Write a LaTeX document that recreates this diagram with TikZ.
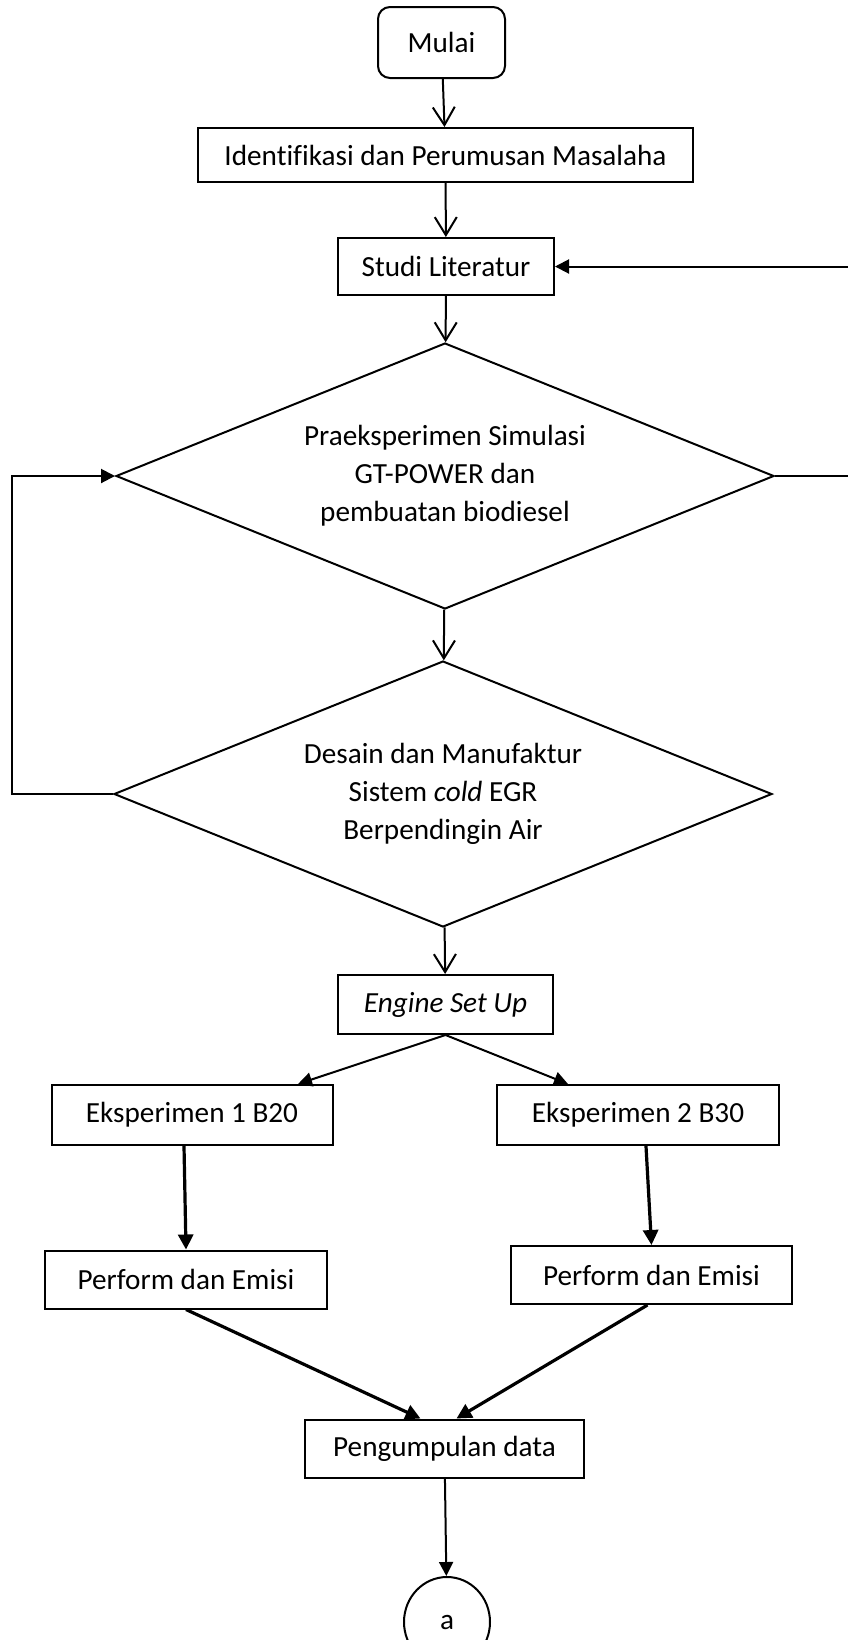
\documentclass[tikz,border=0pt]{standalone}
\usepackage{fontspec}
\setmainfont{Carlito}[Ligatures=NoCommon]
\usetikzlibrary{arrows.meta,shapes.geometric}

\begin{document}
\begin{tikzpicture}[x=0.5pt,y=-0.5pt,line width=1pt,
    every node/.style={font=\fontsize{14.6}{19}\selectfont},
    kotak/.style={draw,rectangle,inner sep=0pt,align=center,minimum height=29pt},
    keputusan/.style={draw,diamond,aspect=2.5,inner sep=0pt,align=center,minimum width=329pt,minimum height=133pt},
    panah/.style={-{Straight Barb[length=9pt,width=11pt]}},
    panahisi/.style={-{Triangle[length=7pt,width=7pt]}},
    panahtebal/.style={line width=1.6pt,-{Triangle[length=7.5pt,width=7.5pt]}}]
    \useasboundingbox (0,0) rectangle (847,1640);

    % Blok utama
    \node[kotak,rounded corners=6pt,minimum width=63.5pt,minimum height=35.5pt] (mulai) at (441.5,42.5) {Mulai};
    \node[kotak,minimum width=247.5pt,minimum height=27pt] (identifikasi) at (445.5,155) {Identifikasi dan Perumusan Masalaha};
    \node[kotak,minimum width=108pt,minimum height=28.5pt] (studi) at (446,266.5) {Studi Literatur};
    \node[keputusan] (praeksperimen) at (445,476) {Praeksperimen Simulasi\\GT-POWER dan\\pembuatan biodiesel};
    \node[keputusan] (desain) at (443,794) {Desain dan Manufaktur\\Sistem \textit{cold} EGR\\Berpendingin Air};
    \node[kotak,minimum width=107.5pt,minimum height=29.5pt] (engine) at (445.5,1004.5) {\textit{Engine Set Up}};

    % Dua cabang eksperimen
    \node[kotak,minimum width=140.5pt,minimum height=30pt] (eks1) at (192,1115) {Eksperimen 1 B20};
    \node[kotak,minimum width=141pt,minimum height=30pt] (eks2) at (638,1115) {Eksperimen 2 B30};
    \node[kotak,minimum width=141pt] (perform1) at (186,1279.5) {Perform dan Emisi};
    \node[kotak,minimum width=140.5pt] (perform2) at (651.5,1275) {Perform dan Emisi};
    \node[kotak,minimum width=139.5pt] (pengumpulan) at (444.5,1448.5) {Pengumpulan data};
    \node[draw,ellipse,inner sep=0pt,minimum width=43pt,minimum height=45pt] (a) at (447,1622) {a};

    % Panah
    \draw[panah] (mulai) -- (identifikasi);
    \draw[panah] (identifikasi) -- (studi);
    \draw[panah] (studi) -- (praeksperimen);
    \draw[panah] (praeksperimen) -- (desain);
    \draw[panah] (desain) -- (engine);
    \draw[panahisi] (engine.south) -- ([xshift=53pt]eks1.north);
    \draw[panahisi] (engine.south) -- ([xshift=-35pt]eks2.north);
    \draw[panahtebal] ([xshift=-4pt]eks1.south) -- (perform1.north);
    \draw[panahtebal] ([xshift=4pt]eks2.south) -- (perform2.north);
    \draw[panahtebal] (perform1.south) -- ([xshift=-12pt]pengumpulan.north);
    \draw[panahtebal] ([xshift=-2pt]perform2.south) -- ([xshift=6pt]pengumpulan.north);
    \draw[panahisi] (pengumpulan) -- (a);

    % Umpan balik
    \draw[panahisi] (praeksperimen.east) -- ++(45pt,0) |- (studi.east);
    \draw[panahisi] (desain.west) -- ++(-50.5pt,0) |- (praeksperimen.west);
\end{tikzpicture}
\end{document}
